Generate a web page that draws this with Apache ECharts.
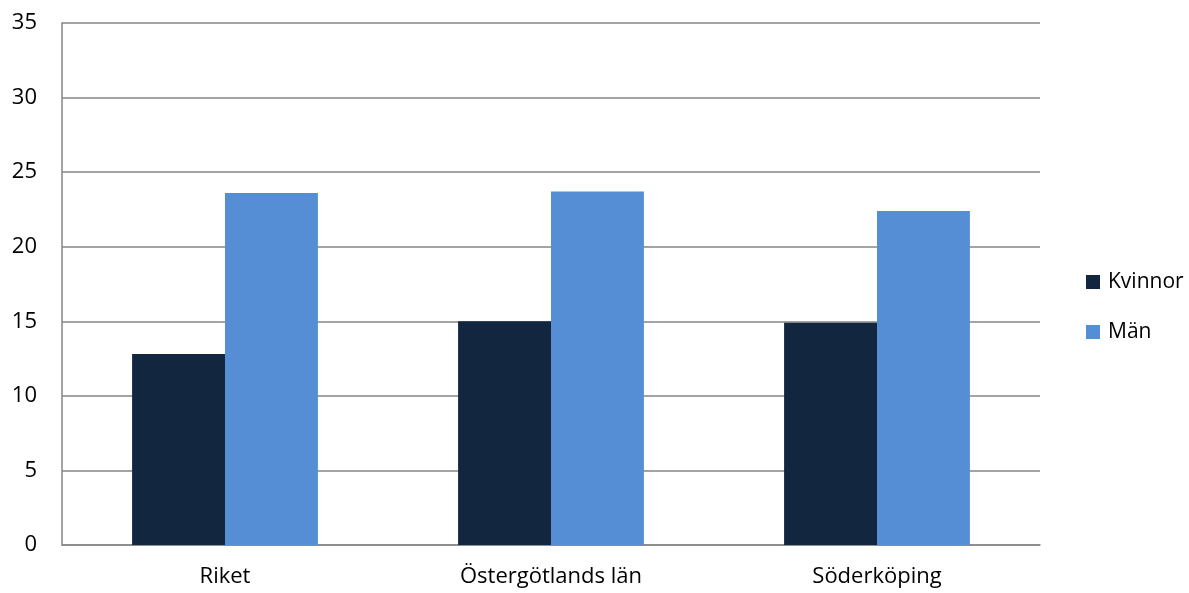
<!DOCTYPE html>
<html><head><meta charset="utf-8">
<script src="https://cdn.jsdelivr.net/npm/echarts@6/dist/echarts.min.js"></script>
<style>html,body{margin:0;padding:0;background:#fff}#c{width:1189px;height:593px}</style>
</head><body><div id="c"></div>
<script>
const categories = ['Riket', 'Östergötlands län', 'Söderköping'];
const kvinnor = [12.8, 15.0, 14.9];
const man = [23.6, 23.7, 22.4];
const seriesNames = ['Kvinnor', 'Män'];
const FONT = '"Open Sans", "Noto Sans", sans-serif';
const chart = echarts.init(document.getElementById('c'));
chart.setOption({
  animation: false,
  backgroundColor: '#fff',
  grid: {left: 62, right: 149, top: 23, bottom: 48, containLabel: false},
  legend: {
    orient: 'vertical', left: 1081, top: 264,
    itemWidth: 14, itemHeight: 14, itemGap: 24, icon: 'rect',
    textStyle: {fontSize: 21, lineHeight: 26, color: '#000', fontFamily: FONT, padding: [0,0,0,3]},
    data: seriesNames
  },
  xAxis: {
    type: 'category', data: categories,
    axisLine: {show: true, lineStyle: {color: '#868686', width: 1.5}},
    axisTick: {show: false},
    axisLabel: {fontSize: 22, color: '#000', fontFamily: FONT, margin: 21}
  },
  yAxis: {
    type: 'value', min: 0, max: 35, interval: 5,
    axisLine: {show: true, lineStyle: {color: '#868686', width: 1.5}},
    axisTick: {show: false},
    splitLine: {lineStyle: {color: '#868686', width: 1.5}},
    axisLabel: {fontSize: 22, color: '#000', fontFamily: FONT, margin: 25}
  },
  series: [
    {name: seriesNames[0], type: 'bar', data: kvinnor, itemStyle: {color: '#12263F'}, barGap: '0%', barCategoryGap: '43%'},
    {name: seriesNames[1], type: 'bar', data: man, itemStyle: {color: '#558ED5'}, barGap: '0%', barCategoryGap: '43%'}
  ]
});
</script></body></html>
